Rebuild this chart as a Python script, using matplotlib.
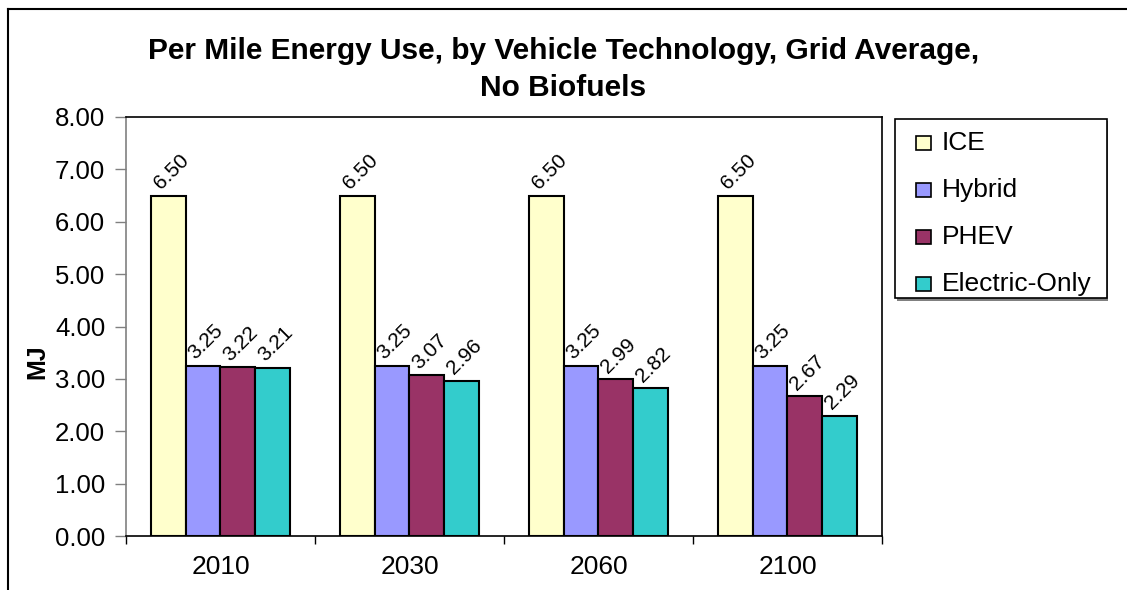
import numpy as np
import matplotlib.pyplot as plt
from matplotlib.patches import Rectangle
from matplotlib.lines import Line2D

plt.rcParams['font.family'] = ['Liberation Sans', 'DejaVu Sans']

# energy use per mile, MJ
years = ["2010", "2030", "2060", "2100"]
technologies = ["ICE", "Hybrid", "PHEV", "Electric-Only"]
ice = [6.50, 6.50, 6.50, 6.50]
hybrid = [3.25, 3.25, 3.25, 3.25]
phev = [3.22, 3.07, 2.99, 2.67]
electric = [3.21, 2.96, 2.82, 2.29]
colors = ["#FFFFCC", "#9999FF", "#993366", "#33CCCC"]

fig = plt.figure(figsize=(11.27, 5.9), dpi=100)
ax = fig.add_axes([0.1118, 0.0915, 0.6708, 0.7102])

x = np.arange(len(years))
width = 0.1835
series = [ice, hybrid, phev, electric]
for i, (vals, name, col) in enumerate(zip(series, technologies, colors)):
    pos = x + (i - 1.5) * width
    bars = ax.bar(pos, vals, width, color=col, edgecolor="black", linewidth=1.5,
                  label=name, zorder=3)
    for b, v in zip(bars, vals):
        ax.annotate("%.2f" % v, (b.get_x() + b.get_width() / 2, v),
                    xytext=(2, 2), textcoords="offset points",
                    rotation=45, ha="center", va="bottom", fontsize=15)

ax.set_xlim(-0.5, 3.5)
ax.set_ylim(0, 8)
ax.set_yticks(np.arange(0, 8.01, 1.0))
ax.set_yticklabels(["%.2f" % t for t in np.arange(0, 8.01, 1.0)], fontsize=18.5)
ax.tick_params(axis="y", length=8, width=1, color="#808080", pad=7)

ax.set_xticks(x)
ax.set_xticklabels(years, fontsize=19)
ax.tick_params(axis="x", which="major", length=0, pad=14)
ax.set_xticks(np.arange(-0.5, 3.6, 1.0), minor=True)
ax.tick_params(axis="x", which="minor", length=6, width=1, color="black")

ax.spines["left"].set_color("#808080")
for s in ax.spines.values():
    s.set_linewidth(1.2)

ax.set_ylabel("MJ", fontsize=18, fontweight="bold")
ax.yaxis.set_label_coords(-0.102, 0.415)

fig.text(0.5, 0.882, "Per Mile Energy Use, by Vehicle Technology, Grid Average,\nNo Biofuels",
         ha="center", va="center", fontsize=21.5, fontweight="bold", linespacing=1.4)

# legend box with a grey shadow along the bottom
fig.add_artist(Rectangle((897 / 1127, 1 - 301 / 590), 211 / 1127, 180 / 590,
                         transform=fig.transFigure, facecolor="#808080",
                         edgecolor="none", zorder=1))
fig.add_artist(Rectangle((895 / 1127, 1 - 298 / 590), 212 / 1127, 179 / 590,
                         transform=fig.transFigure, facecolor="white",
                         edgecolor="black", linewidth=1.2, zorder=2))
for k, (name, col) in enumerate(zip(technologies, colors)):
    yc = 1 - (143 + 47 * k) / 590
    fig.add_artist(Rectangle((916 / 1127, yc - 7 / 590), 15 / 1127, 14 / 590,
                             transform=fig.transFigure, facecolor=col,
                             edgecolor="black", linewidth=1.2, zorder=3))
    fig.text(942 / 1127, yc, name, ha="left", va="center", fontsize=19, zorder=4)

# outer chart frame
fig.add_artist(Line2D([8 / 1127, 1], [1 - 9 / 590, 1 - 9 / 590],
                      transform=fig.transFigure, color="black", linewidth=1.5))
fig.add_artist(Line2D([8 / 1127, 8 / 1127], [0, 1 - 9 / 590],
                      transform=fig.transFigure, color="black", linewidth=1.5))

fig.savefig("out.png", dpi=100)
